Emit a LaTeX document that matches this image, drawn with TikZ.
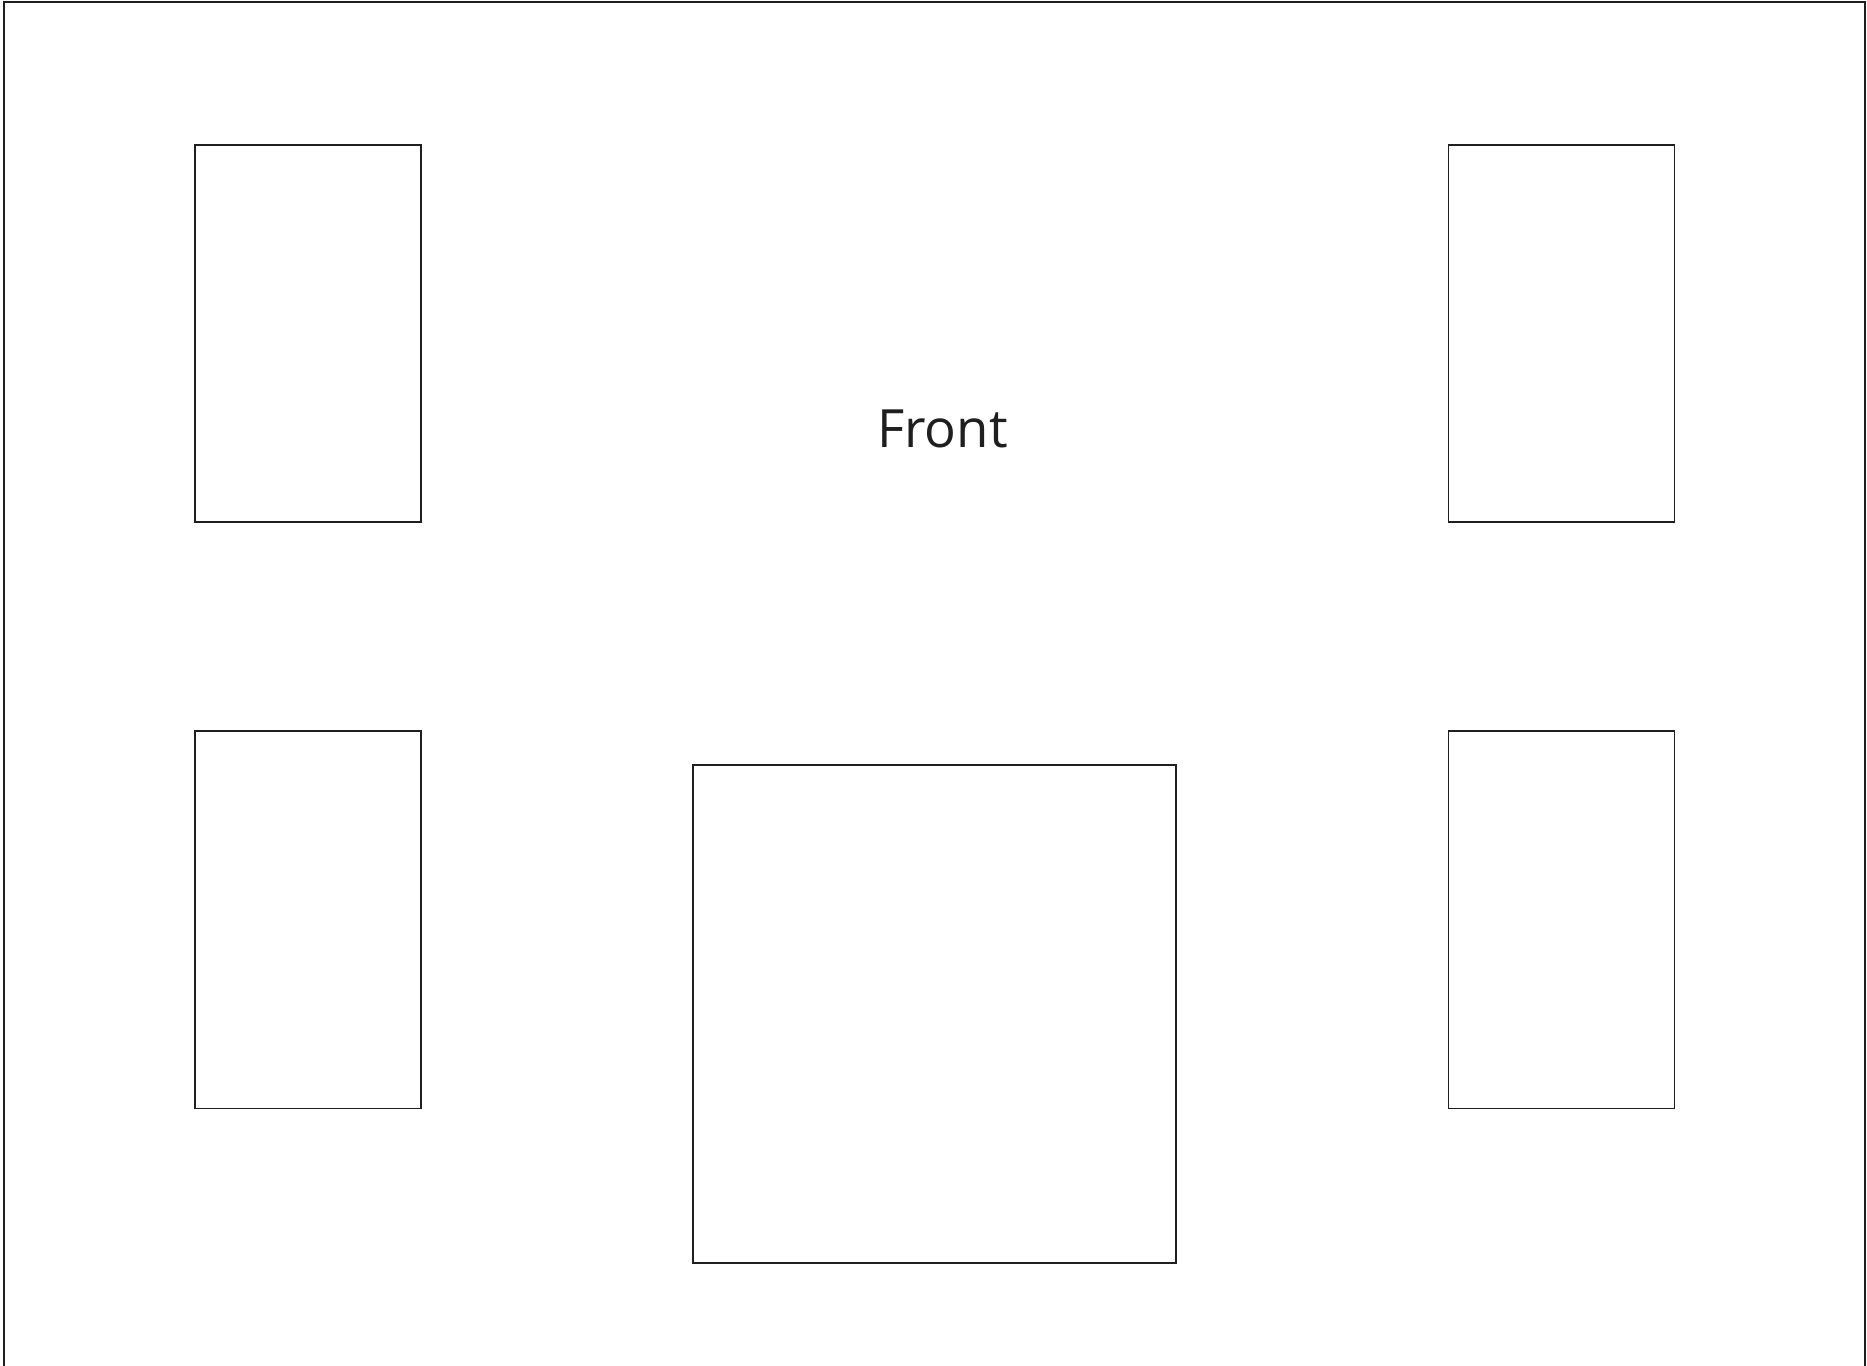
\documentclass[tikz,border=0pt]{standalone}
\usepackage{fontspec}
\setmainfont{Open Sans}
\usetikzlibrary{positioning}
\tikzset{
	line width=0.85pt, % thin dark outlines
	panel/.style = {rectangle, draw=black!88, inner sep=0pt, minimum width=2.26cm, minimum height=3.77cm},
	label text/.style = {text=black!88, font=\fontsize{15}{18}\selectfont, inner sep=0pt, anchor=base}
}

\begin{document}
\begin{tikzpicture}[x=0.01cm,y=-0.01cm]
            \useasboundingbox (0,0) rectangle (1867,1365);
            \draw[black!88] (4,1380) -- (4,2) -- (1865,2) -- (1865,1380);
            \node[panel] (1) at (308,333.5) {};
            \node[panel] (2) at (1561.7,333.5) {};
            \node[panel] (3) at (308,919.6) {};
            \node[panel] (4) at (1561.7,919.6) {};
            \node[panel, minimum width=4.83cm, minimum height=4.98cm] (5) at (934.5,1014) {};
            \node[label text] (front) at (942.5,447.3) {Front};
        \end{tikzpicture}
\end{document}
